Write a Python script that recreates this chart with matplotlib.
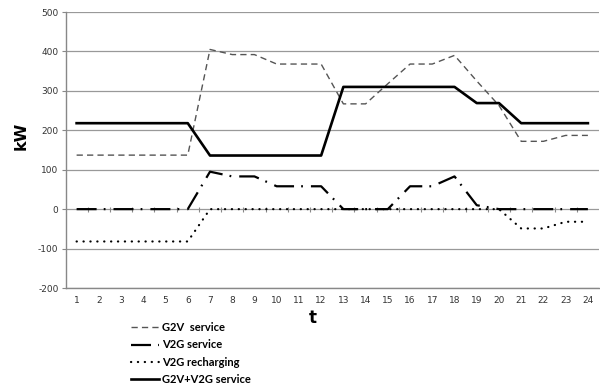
import matplotlib
matplotlib.use("Agg")
import matplotlib.pyplot as plt
import numpy as np

hours = list(range(1, 25))
g2v = [137, 137, 137, 137, 137, 137, 405, 392, 392, 368, 368, 368,
       267, 267, 318, 368, 368, 390, 325, 263, 172, 172, 187, 187]
v2g_service = [0, 0, 0, 0, 0, 0, 95, 83, 83, 58, 58, 58,
               0, 0, 0, 58, 58, 83, 10, 0, 0, 0, 0, 0]
v2g_recharging = [-82, -82, -82, -82, -82, -82, 0, 0, 0, 0, 0, 0,
                  0, 0, 0, 0, 0, 0, 0, 0, -49, -49, -32, -32]
g2v_v2g = [218, 218, 218, 218, 218, 218, 136, 136, 136, 136, 136, 136,
           310, 310, 310, 310, 310, 310, 269, 269, 218, 218, 218, 218]
yticks = [-200, -100, 0, 100, 200, 300, 400, 500]
labels = ["G2V  service", "V2G service", "V2G recharging", "G2V+V2G service"]

fig = plt.figure(figsize=(6, 3.9), dpi=100)
ax = fig.add_axes([65.5 / 600, 1 - 288 / 390, 1 - 65.5 / 600 - 1 / 600, (288 - 12) / 390])

x = np.array(hours)
ax.plot(x, g2v, color="#555555", lw=1.0, dashes=(4.5, 3.0), label=labels[0])
ax.plot(x, v2g_service, color="black", lw=1.6, dashes=(9, 3.2, 0.8, 3.6), label=labels[1])
ax.plot(x, v2g_recharging, color="black", lw=1.6, dashes=(0.1, 3.0),
        dash_capstyle="round", label=labels[2])
ax.plot(x, g2v_v2g, color="black", lw=1.9, label=labels[3])

ax.set_xlim(0.5, 24.5)
ax.set_ylim(-200, 500)
ax.set_yticks(yticks)
ax.set_xticks(hours)
ax.set_yticklabels([str(v) for v in yticks])
ax.set_xticklabels([str(h) for h in hours])
ax.tick_params(axis="y", length=3, color="#888888", labelsize=6.5, labelcolor="#333333", pad=2)
ax.tick_params(axis="x", length=0, labelsize=6.5, labelcolor="#333333", pad=6)
ax.yaxis.grid(True, color="#999999", lw=0.9)
ax.set_axisbelow(True)
for s in ["top", "right"]:
    ax.spines[s].set_visible(False)
for s in ["left", "bottom"]:
    ax.spines[s].set_color("#888888")
    ax.spines[s].set_linewidth(1.0)

# category boundary ticks on the zero axis
bounds = x[:-1] + 0.5
ax.vlines(bounds, -6, 6, color="#888888", lw=0.8, zorder=1)

ax.set_ylabel("kW", fontsize=11.5, fontweight="bold")
ax.yaxis.set_label_coords(-0.07, 0.55)
fig.text(313 / 600, 1 - 318 / 390, "t", fontsize=12, fontweight="bold",
         ha="center", va="center")

handles, labs = ax.get_legend_handles_labels()
leg = fig.legend(handles, labs, loc="upper left", bbox_to_anchor=(131 / 600, 1 - 322 / 390),
                 frameon=False, prop={"family": "Lato", "weight": "bold", "size": 8},
                 handlelength=2.5, handletextpad=0.3, labelspacing=0.58,
                 borderaxespad=0, borderpad=0)

fig.savefig("out.png", dpi=100)
